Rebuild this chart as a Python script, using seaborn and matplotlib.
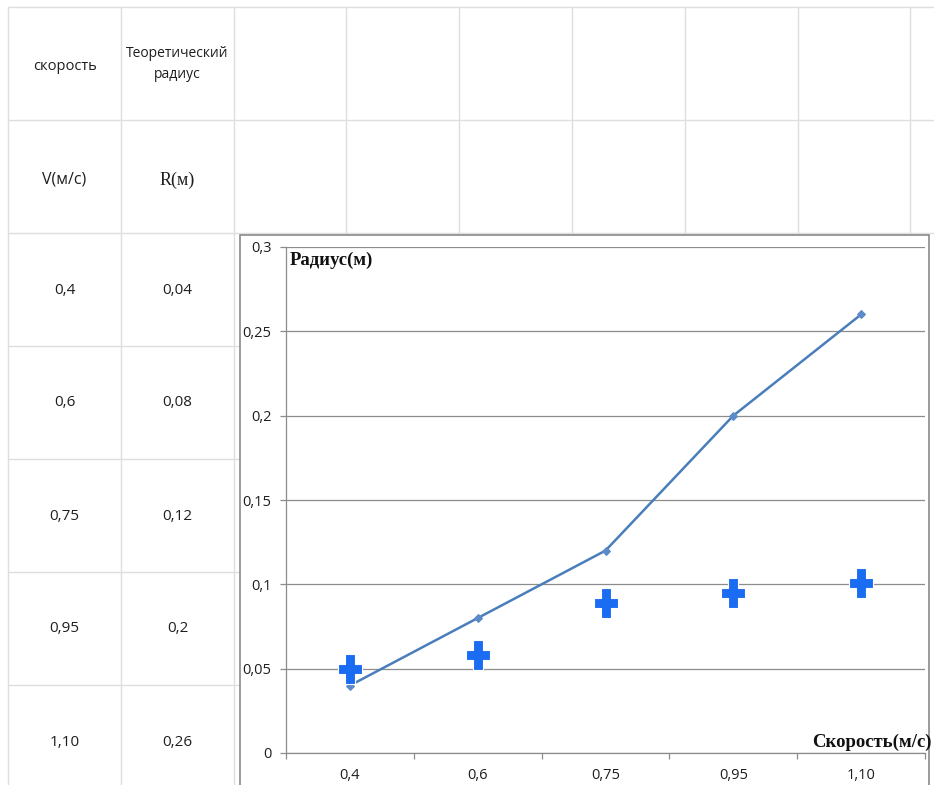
import numpy as np
import pandas as pd
import matplotlib
matplotlib.use("Agg")
import matplotlib.pyplot as plt
from matplotlib.patches import Rectangle
import seaborn as sns

# ---------------------------------------------------------------
# ДАННЫЕ
# ---------------------------------------------------------------
speed_labels = ["0,4", "0,6", "0,75", "0,95", "1,10"]
r_theory = [0.04, 0.08, 0.12, 0.2, 0.26]
r_exp = [0.050, 0.058, 0.089, 0.095, 0.101]
y_ticks = [0, 0.05, 0.1, 0.15, 0.2, 0.25, 0.3]

header_top = ["скорость", "Теоретический\nрадиус"]
header_units = ["V(м/с)", "R(м)"]


def comma(v):
    return f"{v:g}".replace(".", ",")


df = pd.DataFrame({"pos": np.arange(len(speed_labels)),
                   "speed": speed_labels,
                   "theory": r_theory,
                   "exp": r_exp})

sns.set_theme(style="white")
plt.rcParams["font.family"] = ["Open Sans", "DejaVu Sans"]

W, H = 934, 785
fig = plt.figure(figsize=(W / 100, H / 100), dpi=100)

# ---------------------------------------------------------------
# ФОН: сетка листа Excel и таблица
# ---------------------------------------------------------------
bg = fig.add_axes([0, 0, 1, 1])
bg.set_xlim(0, W)
bg.set_ylim(H, 0)
bg.axis("off")

grid_c = "#dcdee0"
txt_c = "#1e1e1e"
col_x = [8, 121, 234, 346, 459, 572, 685, 798, 910]
row_y = [7, 120, 233, 346, 459, 572, 685]
for x in col_x:
    bg.vlines(x, 7, H, color=grid_c, lw=1)
for y in row_y:
    bg.hlines(y, 8, W if y <= 233 else 240, color=grid_c, lw=1)

cx = [64.5, 177.5]
bg.text(cx[0], 66, header_top[0], ha="center", va="center", fontsize=10.5, color=txt_c)
bg.text(cx[1], 64, header_top[1], ha="center", va="center", fontsize=10,
        color=txt_c, linespacing=1.55)
bg.text(cx[0], 180, header_units[0], ha="center", va="center", fontsize=11.5, color=txt_c)
bg.text(cx[1], 180, header_units[1], ha="center", va="center", fontsize=13,
        color=txt_c, family=["Liberation Serif", "DejaVu Serif"])
for i, (s, r) in enumerate(zip(speed_labels, r_theory)):
    yc = 290 + i * 113
    bg.text(cx[0], yc, s, ha="center", va="center", fontsize=11, color=txt_c)
    bg.text(cx[1], yc, comma(r), ha="center", va="center", fontsize=11, color=txt_c)

# рамка диаграммы
bg.add_patch(Rectangle((240, 235), 689, 560, facecolor="white",
                       edgecolor="#8a8a8a", lw=1.2, zorder=5))

# ---------------------------------------------------------------
# ДИАГРАММА
# ---------------------------------------------------------------
ax = fig.add_axes([286 / W, (H - 753) / H, 639 / W, 506 / H])
ax.set_facecolor("none")

sns.lineplot(data=df, x="pos", y="theory", ax=ax, color="#4a7ebb", lw=1.8,
             marker="D", markersize=4.5, markeredgecolor="#5b8bc9",
             markerfacecolor="#5b8bc9", zorder=3)

plus = [(-5, 15), (5, 15), (5, 5), (12, 5), (12, -5), (5, -5), (5, -15),
        (-5, -15), (-5, -5), (-12, -5), (-12, 5), (-5, 5), (-5, 15)]
sns.scatterplot(data=df, x="pos", y="exp", ax=ax, marker=plus, s=480,
                color="#1a6cf2", edgecolor="white", linewidth=0.8, zorder=4)

ax.set_xlim(-0.5, len(speed_labels) - 0.5)
ax.set_ylim(0, 0.3)
ax.set_yticks(y_ticks)
ax.set_yticklabels([comma(v) for v in y_ticks])
ax.set_xticks(np.arange(len(speed_labels) + 1) - 0.5)
ax.set_xticklabels([])
ax.set_xticks(np.arange(len(speed_labels)), minor=True)
ax.set_xticklabels(speed_labels, minor=True)

ax.yaxis.grid(True, color="#8c8c8c", lw=0.9)
ax.set_axisbelow(True)
for side in ["top", "right"]:
    ax.spines[side].set_visible(False)
for side in ["left", "bottom"]:
    ax.spines[side].set_color("#8c8c8c")
    ax.spines[side].set_linewidth(0.9)

ax.tick_params(axis="y", which="major", direction="out", length=4.3, width=0.9,
               color="#8c8c8c", pad=6, labelsize=10.5, labelcolor=txt_c, left=True)
ax.tick_params(axis="x", which="major", direction="out", length=4.3, width=0.9,
               color="#8c8c8c", bottom=True)
ax.tick_params(axis="x", which="minor", length=0, pad=10.5, labelsize=10.5,
               labelcolor=txt_c)
ax.set_xlabel("")
ax.set_ylabel("")

serif = ["Liberation Serif", "DejaVu Serif"]
fig.text(290 / W, 1 - 260 / H, "Радиус(м)", ha="left", va="center",
         fontsize=13.5, fontweight="bold", family=serif, color="#111111")
fig.text(932 / W, 1 - 742 / H, "Скорость(м/с)", ha="right", va="center",
         fontsize=13.5, fontweight="bold", family=serif, color="#111111")

fig.savefig("out.png", dpi=100)
